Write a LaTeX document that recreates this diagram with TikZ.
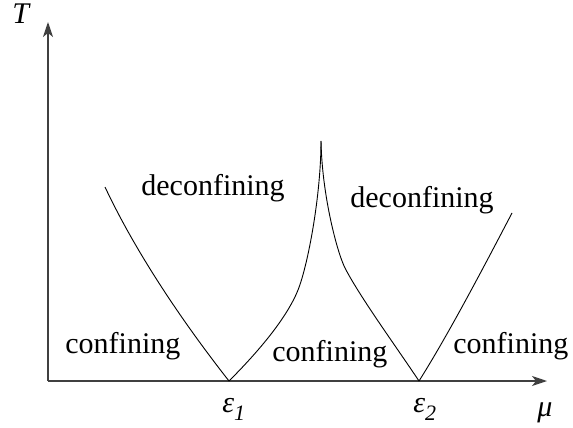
\documentclass[tikz,border=0pt]{standalone}
\usepackage{fontspec}
\setmainfont{Liberation Serif}
\usetikzlibrary{arrows.meta}
\newcommand{\mysub}[1]{\raisebox{-0.28em}{\fontsize{11}{12}\selectfont\itshape #1}}
\begin{document}
\begin{tikzpicture}[x=0.5pt,y=-0.5pt,
  lbl/.style={inner sep=0pt,anchor=base west,font=\fontsize{15}{18}\selectfont},
  axis/.style={line width=0.7pt,draw=black!75,-{Stealth[length=7.5pt,width=5pt,inset=2pt]}},
  curve/.style={line width=0.45pt,draw=black}]
\useasboundingbox (0,0) rectangle (573,428);
\coordinate (O) at (48,381);
\coordinate (Ttip) at (48,22);
\coordinate (Mtip) at (547,381);
\coordinate (e1) at (229,381);
\coordinate (e2) at (419,381);
\coordinate (top1) at (105,187);
\coordinate (cusp) at (321,141);
\coordinate (top2) at (512,213);
\draw[axis] (O) -- (Ttip);
\draw[axis] (O) -- (Mtip);
\draw[curve] (top1) .. controls (137,255) and (185,325) .. (e1);
\draw[curve] (e1) .. controls (255,355) and (286,320) .. (298,290)
                  .. controls (308,265) and (321,195) .. (cusp);
\draw[curve] (cusp) .. controls (322,195) and (337,252) .. (345,268)
                  .. controls (360,297) and (395,345) .. (e2);
\draw[curve] (e2) .. controls (450,332) and (490,255) .. (top2);
\node[lbl] (Tl) at (12,24) {\itshape T};
\node[lbl] (mul) at (537,416) {\itshape μ};
\node[lbl] (e1l) at (222,412) {\itshape ε\mysub{1}};
\node[lbl] (e2l) at (413,412) {\itshape ε\mysub{2}};
\node[lbl] (dc1) at (141,195) {deconfining};
\node[lbl] (dc2) at (350,207) {deconfining};
\node[lbl] (c1) at (65,353) {confining};
\node[lbl] (c2) at (272,361) {confining};
\node[lbl] (c3) at (453,353) {confining};
\end{tikzpicture}
\end{document}
